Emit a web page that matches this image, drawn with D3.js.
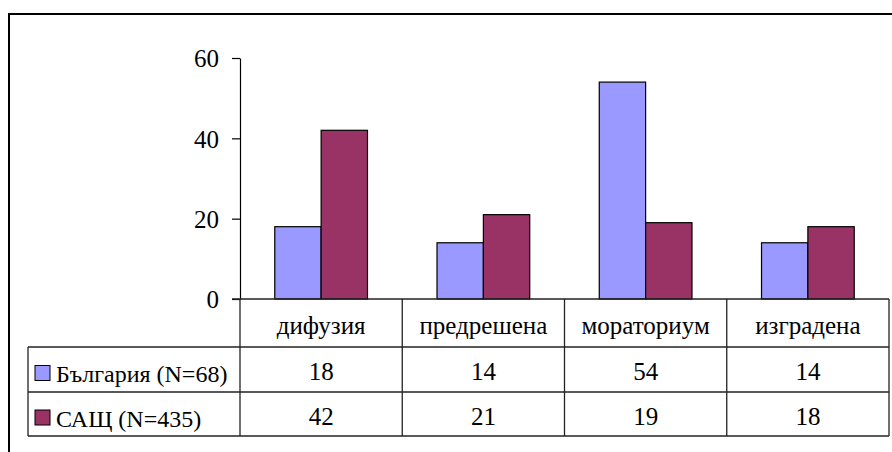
<!DOCTYPE html>
<html><head><meta charset="utf-8">
<script src="https://cdn.jsdelivr.net/npm/d3@7"></script>
<style>html,body{margin:0;padding:0;background:#fff;}svg{display:block;}</style>
</head><body>
<script>
const categories = ["дифузия", "предрешена", "мораториум", "изградена"];
const seriesNames = ["България (N=68)", "САЩ (N=435)"];
const bulgaria = [18, 14, 54, 14];
const usa = [42, 21, 19, 18];
const yTicks = [0, 20, 40, 60];
const colors = ["#9999FF", "#993366"];

const W = 892, H = 452;
const FONT = "Liberation Serif";
const FS = 25;
const svg = d3.select("body").append("svg").attr("width", W).attr("height", H)
  .attr("font-family", FONT);

// outer frame
svg.append("rect").attr("x", 9).attr("y", 14).attr("width", W + 20).attr("height", H + 20)
  .attr("fill", "none").attr("stroke", "#000").attr("stroke-width", 2);

const plotLeft = 240, plotRight = 889, yTop = 58, y0 = 299;
const rowBottoms = [347, 392, 436];
const tableLeft = 28;

const x = d3.scaleBand().domain(categories).range([plotLeft, plotRight]).padding(0);
const xs = d3.scaleBand().domain(seriesNames).range([0, x.bandwidth()]).paddingInner(0).paddingOuter(0.75);
const y = d3.scaleLinear().domain([0, 60]).range([y0, yTop]);

const data = [bulgaria, usa];

// bars
seriesNames.forEach((s, si) => {
  svg.append("g").selectAll("rect").data(categories).join("rect")
    .attr("x", c => x(c) + xs(s))
    .attr("y", (c, i) => y(data[si][i]))
    .attr("width", xs.bandwidth())
    .attr("height", (c, i) => y(0) - y(data[si][i]))
    .attr("fill", colors[si]).attr("stroke", "#000").attr("stroke-width", 1.2);
});

// y axis
const yAxis = d3.axisLeft(y).tickValues(yTicks).tickSize(8).tickPadding(13).tickSizeOuter(0);
const ga = svg.append("g").attr("transform", `translate(${plotLeft},0)`).call(yAxis)
  .attr("font-family", FONT).attr("font-size", FS);
ga.select(".domain").attr("stroke", "#000").attr("stroke-width", 1.2);
ga.selectAll(".tick line").attr("stroke", "#000").attr("stroke-width", 1.2);
ga.selectAll(".tick text").attr("font-family", FONT).attr("font-size", FS).attr("fill", "#000").attr("dy", "0.35em");

// table lines
const tl = svg.append("g").attr("stroke", "#222").attr("stroke-width", 1.3);
tl.append("line").attr("x1", plotLeft - 8).attr("x2", plotRight).attr("y1", y0).attr("y2", y0);
rowBottoms.forEach(yy => tl.append("line").attr("x1", tableLeft).attr("x2", plotRight).attr("y1", yy).attr("y2", yy));
tl.append("line").attr("x1", tableLeft).attr("x2", tableLeft).attr("y1", rowBottoms[0]).attr("y2", rowBottoms[2]);
const vx = categories.map(c => x(c)).concat([plotRight]);
vx.forEach(xx => tl.append("line").attr("x1", xx).attr("x2", xx).attr("y1", y0).attr("y2", rowBottoms[2]));

// category row
const rowTops = [y0, rowBottoms[0], rowBottoms[1]];
const rowMid = i => (rowTops[i] + rowBottoms[i]) / 2;
const txt = sel => sel.attr("font-family", FONT).attr("font-size", FS).attr("fill", "#000");
svg.append("g").selectAll("text").data(categories).join("text")
  .attr("x", c => x(c) + x.bandwidth() / 2).attr("y", rowMid(0) + 11)
  .attr("text-anchor", "middle").call(txt)
  .text(c => c);

// value rows
data.forEach((vals, si) => {
  svg.append("g").selectAll("text").data(vals).join("text")
    .attr("x", (v, i) => x(categories[i]) + x.bandwidth() / 2).attr("y", rowMid(si + 1) + 10.5)
    .attr("text-anchor", "middle").call(txt)
    .text(v => v);
  svg.append("rect").attr("x", 35).attr("y", rowMid(si + 1) - 4).attr("width", 15).attr("height", 15)
    .attr("fill", colors[si]).attr("stroke", "#000").attr("stroke-width", 1);
  svg.append("text").attr("x", 56).attr("y", rowMid(si + 1) + 12.5).call(txt)
    .attr("font-size", 24).text(seriesNames[si]);
});
</script>
</body></html>
